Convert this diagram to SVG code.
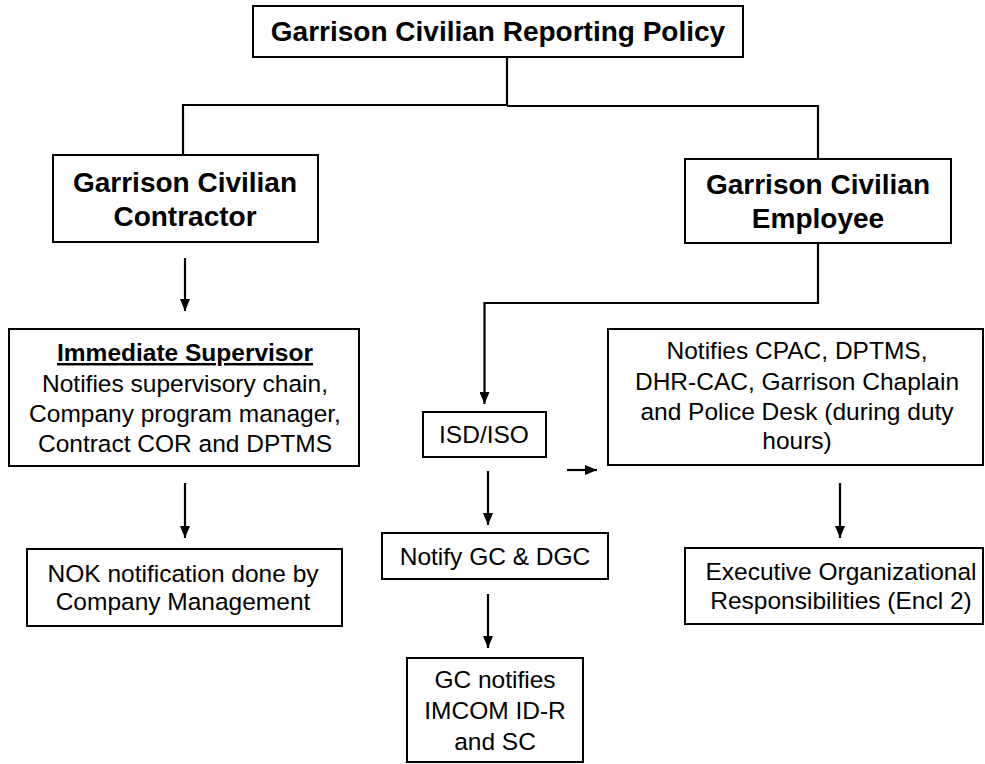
<svg xmlns="http://www.w3.org/2000/svg" width="985" height="764" viewBox="0 0 985 764">
<defs>
<marker id="ah" viewBox="0 0 12 10" refX="12" refY="5" markerWidth="12" markerHeight="10" markerUnits="userSpaceOnUse" orient="auto">
<path d="M0,0 L12,5 L0,10 z" fill="#000"/>
</marker>
<style>
.box{fill:#fff;stroke:#000;stroke-width:2}
.t{font-family:"Liberation Sans",Arial,sans-serif;font-size:24.5px;fill:#000;text-anchor:middle}
.b{font-weight:bold;font-size:28px}
.u{font-weight:bold;text-decoration:underline}
.c{fill:none;stroke:#000;stroke-width:2.2}
.a{marker-end:url(#ah)}
</style>
</defs>
<rect width="985" height="764" fill="#fff"/>
<g id="connectors">
<path class="c" d="M507,57 V105"/>
<path class="c" d="M183,155 V105 H507"/>
<path class="c" d="M507,106 H818 V159"/>
<path class="c" d="M517,106 H575" stroke-width="3"/>
<path class="c a" d="M185,258 V311"/>
<path class="c a" d="M185,483 V538"/>
<path class="c a" d="M818,243 V303 H484.5 V404"/>
<path class="c a" d="M488,471 V525"/>
<path class="c a" d="M488,594 V648"/>
<path class="c a" d="M567,470 H597"/>
<path class="c a" d="M840,483 V538"/>
</g>
<g id="policy">
<rect class="box" x="253" y="6" width="490" height="51"/>
<text class="t b" x="498" y="41">Garrison Civilian Reporting Policy</text>
</g>
<g id="contractor">
<rect class="box" x="53" y="155" width="265" height="87"/>
<text class="t b" x="185" y="192">Garrison Civilian</text>
<text class="t b" x="185" y="226">Contractor</text>
</g>
<g id="employee">
<rect class="box" x="685" y="159" width="266" height="84"/>
<text class="t b" x="818" y="194">Garrison Civilian</text>
<text class="t b" x="818" y="228">Employee</text>
</g>
<g id="supervisor">
<rect class="box" x="9" y="329" width="350" height="137"/>
<text class="t u" x="185" y="361">Immediate Supervisor</text>
<text class="t" x="185" y="392">Notifies supervisory chain,</text>
<text class="t" x="185" y="422">Company program manager,</text>
<text class="t" x="185" y="452">Contract COR and DPTMS</text>
</g>
<g id="nok">
<rect class="box" x="27" y="549" width="315" height="77"/>
<text class="t" x="183" y="582">NOK notification done by</text>
<text class="t" x="183" y="610">Company Management</text>
</g>
<g id="isd">
<rect class="box" x="423" y="412" width="123" height="45"/>
<text class="t" x="484" y="443">ISD/ISO</text>
</g>
<g id="notifies">
<rect class="box" x="608" y="329" width="375" height="136"/>
<text class="t" x="797" y="359">Notifies CPAC, DPTMS,</text>
<text class="t" x="797" y="390">DHR-CAC, Garrison Chaplain</text>
<text class="t" x="797" y="420">and Police Desk (during duty</text>
<text class="t" x="797" y="449">hours)</text>
</g>
<g id="notifygc">
<rect class="box" x="382" y="533" width="226" height="46"/>
<text class="t" x="495" y="565">Notify GC &amp; DGC</text>
</g>
<g id="gcnotifies">
<rect class="box" x="407" y="658" width="176" height="104"/>
<text class="t" x="495" y="688">GC notifies</text>
<text class="t" x="495" y="719">IMCOM ID-R</text>
<text class="t" x="495" y="750">and SC</text>
</g>
<g id="executive">
<rect class="box" x="685" y="548" width="298" height="76"/>
<text class="t" x="841" y="580">Executive Organizational</text>
<text class="t" x="841" y="609">Responsibilities (Encl 2)</text>
</g>
</svg>
